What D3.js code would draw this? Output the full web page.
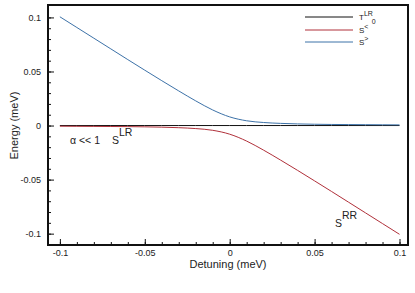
<!DOCTYPE html>
<html>
<head>
<meta charset="utf-8">
<script src="https://cdn.jsdelivr.net/npm/d3@7"></script>
<style>
  body { margin: 0; background: #fff; }
  text { font-family: "Liberation Sans", Arial, sans-serif; fill: #222; }
</style>
</head>
<body>
<div id="chart"></div>
<script>
const detuning = [-0.1, -0.09, -0.08, -0.07, -0.06, -0.05, -0.04, -0.03, -0.02, -0.01, 0,
  0.01, 0.02, 0.03, 0.04, 0.05, 0.06, 0.07, 0.08, 0.09, 0.1];
const sGreater = [0.1006, 0.0907, 0.0808, 0.0709, 0.0610, 0.0512, 0.0415, 0.0320, 0.0228, 0.0144, 0.0080,
  0.0044, 0.0028, 0.0020, 0.0015, 0.0012, 0.0010, 0.0009, 0.0008, 0.0007, 0.0006];
const sLess = [-0.0006, -0.0007, -0.0008, -0.0009, -0.0010, -0.0012, -0.0015, -0.0020, -0.0028, -0.0044, -0.0080,
  -0.0144, -0.0228, -0.0320, -0.0415, -0.0512, -0.0610, -0.0709, -0.0808, -0.0907, -0.1006];
const tZero = detuning.map(() => 0);

const xTicks = [-0.1, -0.05, 0, 0.05, 0.1];
const yTicks = [-0.1, -0.05, 0, 0.05, 0.1];
const minorTicks = d3.range(-10, 11).map(i => i / 100);

const width = 415;
const height = 293;
const margin = { left: 48, right: 7, top: 5, bottom: 48 };

const svg = d3.select("#chart")
  .append("svg")
  .attr("width", width)
  .attr("height", height);

const x = d3.scaleLinear()
  .domain([-0.107, 0.105])
  .range([margin.left, width - margin.right]);

const y = d3.scaleLinear()
  .domain([-0.1105, 0.1115])
  .range([height - margin.bottom, margin.top]);

const fmt = d => String(d);

// minor ticks
svg.append("g")
  .attr("transform", `translate(0,${height - margin.bottom})`)
  .call(d3.axisBottom(x).tickValues(minorTicks).tickSize(-3).tickFormat(""))
  .call(g => g.select(".domain").remove());
svg.append("g")
  .attr("transform", `translate(${margin.left},0)`)
  .call(d3.axisLeft(y).tickValues(minorTicks).tickSize(-3).tickFormat(""))
  .call(g => g.select(".domain").remove());

// major ticks
svg.append("g")
  .attr("transform", `translate(0,${height - margin.bottom})`)
  .call(d3.axisBottom(x).tickValues(xTicks).tickSize(-6).tickPadding(5).tickFormat(fmt))
  .call(g => g.select(".domain").remove())
  .call(g => g.selectAll("text").attr("font-size", 9).attr("font-family", "Liberation Sans, Arial"));
svg.append("g")
  .attr("transform", `translate(${margin.left},0)`)
  .call(d3.axisLeft(y).tickValues(yTicks).tickSize(-6).tickPadding(7).tickFormat(fmt))
  .call(g => g.select(".domain").remove())
  .call(g => g.selectAll("text").attr("font-size", 9).attr("font-family", "Liberation Sans, Arial"));

svg.selectAll(".tick line").attr("stroke", "#111");

// frame
svg.append("rect")
  .attr("x", margin.left)
  .attr("y", margin.top)
  .attr("width", width - margin.left - margin.right)
  .attr("height", height - margin.top - margin.bottom)
  .attr("fill", "none")
  .attr("stroke", "#111")
  .attr("stroke-width", 2);

// axis titles
svg.append("text")
  .attr("x", (margin.left + width - margin.right) / 2)
  .attr("y", 268)
  .attr("text-anchor", "middle")
  .attr("font-size", 11)
  .text("Detuning (meV)");

svg.append("text")
  .attr("transform", `translate(18,${y(0)}) rotate(-90)`)
  .attr("text-anchor", "middle")
  .attr("font-size", 11)
  .text("Energy (meV)");

// curves
const series = [
  { values: tZero, color: "#111" },
  { values: sLess, color: "#b0303a" },
  { values: sGreater, color: "#3d72a8" }
];

const line = d3.line()
  .x((d, i) => x(detuning[i]))
  .y(d => y(d))
  .curve(d3.curveMonotoneX);

svg.append("g")
  .attr("fill", "none")
  .selectAll("path")
  .data(series)
  .join("path")
  .attr("d", d => line(d.values))
  .attr("stroke", d => d.color)
  .attr("stroke-width", 1);

// legend
const legend = svg.append("g");
const legendRows = [
  { base: "T", sup: "LR", sub: "0", color: "#111", y: 17 },
  { base: "S", sup: "<", color: "#b0303a", y: 30 },
  { base: "S", sup: ">", color: "#3d72a8", y: 42 }
];
legendRows.forEach(r => {
  legend.append("line")
    .attr("x1", 305).attr("x2", 353)
    .attr("y1", r.y).attr("y2", r.y)
    .attr("stroke", r.color)
    .attr("stroke-width", 1);
  const t = legend.append("text")
    .attr("x", 359)
    .attr("y", r.y + 3)
    .attr("font-size", 8);
  t.append("tspan").text(r.base);
  t.append("tspan").attr("dy", -4).attr("font-size", 7).text(r.sup);
  if (r.sub) t.append("tspan").attr("dy", 8).attr("dx", -1).attr("font-size", 7).text(r.sub);
});

// annotations
svg.append("text").attr("x", 70).attr("y", 144).attr("font-size", 10.5).text("α << 1");
const a1 = svg.append("text").attr("x", 112).attr("y", 144).attr("font-size", 10.5);
a1.append("tspan").text("S");
a1.append("tspan").attr("dy", -8).text("LR");

const a2 = svg.append("text").attr("x", 335).attr("y", 227).attr("font-size", 10.5);
a2.append("tspan").text("S");
a2.append("tspan").attr("dy", -8).text("RR");
</script>
</body>
</html>
